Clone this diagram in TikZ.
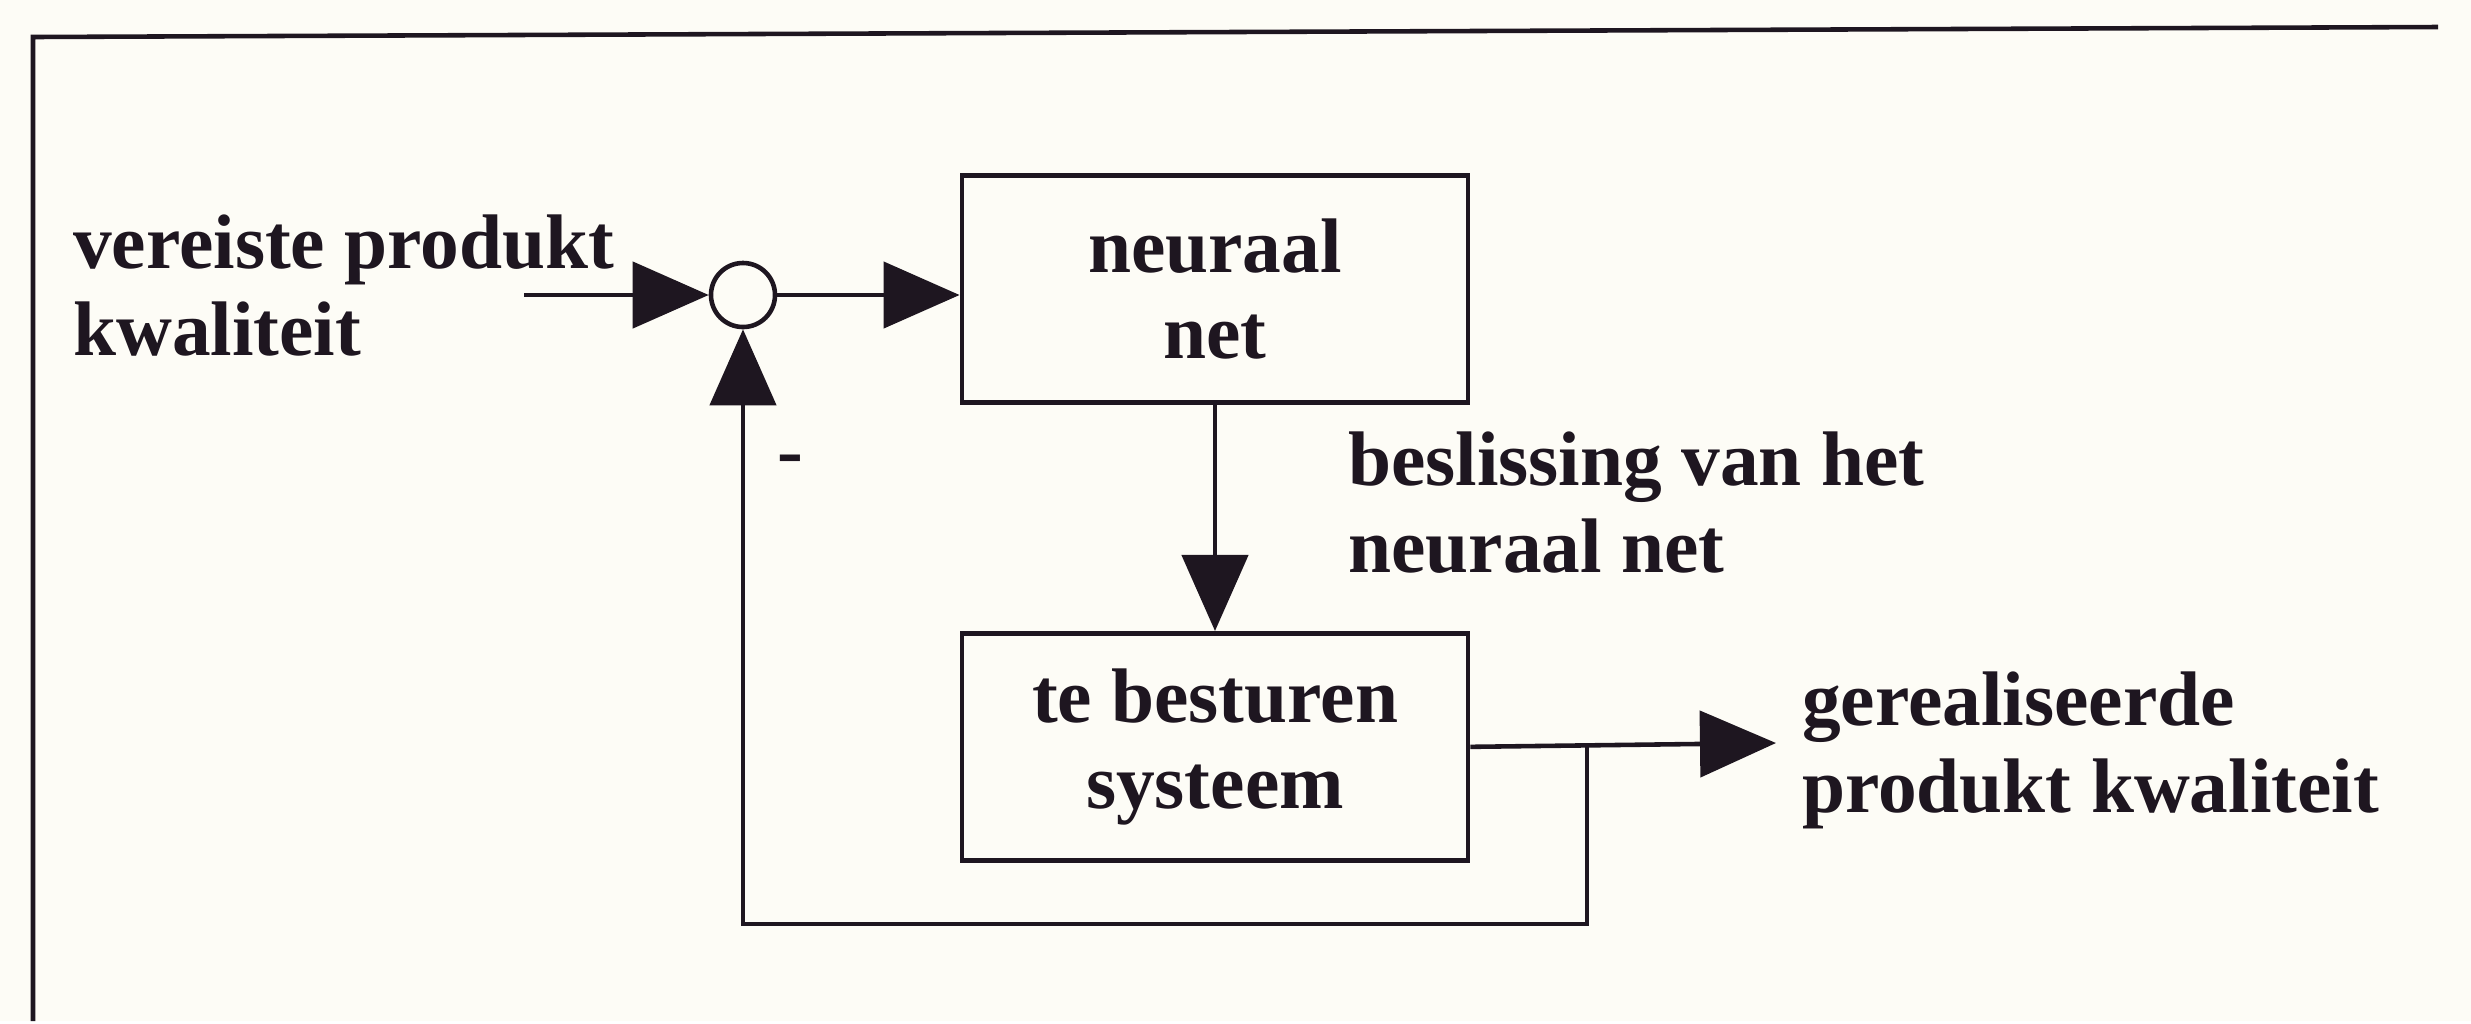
\documentclass[tikz,border=0pt]{standalone}
\usepackage{fontspec}
\setmainfont{Liberation Serif}
\usetikzlibrary{arrows.meta,positioning}

\definecolor{ink}{RGB}{30,22,32}
\definecolor{paper}{RGB}{253,252,246}

\begin{document}
\begin{tikzpicture}[x=0.01cm,y=-0.01cm,color=ink,line width=1.3pt,
  font=\fontsize{22}{24.5}\selectfont\bfseries,
  blok/.style={draw,minimum width=5.06cm,minimum height=2.27cm,align=center,inner sep=0pt},
  som/.style={circle,draw,minimum size=0.64cm,inner sep=0pt},
  tekst/.style={align=left,anchor=base west,inner sep=0pt},
  pijl/.style={-{Triangle[length=0.76cm,width=0.66cm]}}]
% paper and the frame round the figure
\fill[paper] (0,0) rectangle (2471,1021);
\draw (2438,27) -- (33,37) -- (33,1021);

% blocks
\node [som] (som) at (743,295) {};
\node [blok] (net) at (1215,289) {neuraal\\net};
\node [blok,below=2.26cm of net] (sys) {te besturen\\systeem};

% labels (base is the baseline of the last line)
\node [tekst] (in) at (71,355) {vereiste produkt\\kwaliteit};
\node [tekst] (besl) at (1346,572) {beslissing van het\\neuraal net};
\node [tekst] (uit) at (1800,812) {gerealiseerde\\produkt kwaliteit};
\node [inner sep=0pt] (min) at (790,466) {-};

\coordinate (start) at (524,295);
\coordinate (eind) at (1776,743);
\coordinate (tak) at (1587,743);
\coordinate (terug) at (1587,924);

% signal flow
\draw [pijl] (start) -- (som);
\draw [pijl] (som) -- (som -| net.west);
\draw [pijl] (net.south) -- (sys.north);
\draw [pijl] (sys.east) -- (eind);
\draw [pijl] (tak) -- (terug) -| (som.south);
\end{tikzpicture}
\end{document}
